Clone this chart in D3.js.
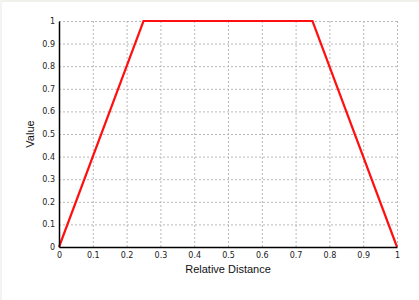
<!DOCTYPE html>
<html>
<head>
<meta charset="utf-8">
<script src="https://cdn.jsdelivr.net/npm/d3@7"></script>
<style>
  body { margin: 0; background: #fff; }
  svg { display: block; }
  .tick text { font-family: "DejaVu Sans", sans-serif; font-size: 8px; fill: #222; }
  .grid line { stroke: #b8b8b8; stroke-dasharray: 2,2; }
  .grid path { display: none; }
  .title { font-family: "Liberation Sans", Arial, sans-serif; font-size: 11px; fill: #111; }
</style>
</head>
<body>
<svg id="chart" width="419" height="300"></svg>
<script>
var distances = [0, 0.25, 0.75, 1];
var values = [0, 1, 1, 0];
var tickValues = [0, 0.1, 0.2, 0.3, 0.4, 0.5, 0.6, 0.7, 0.8, 0.9, 1];

var svg = d3.select("svg#chart");
var margin = { top: 21, right: 22, bottom: 53, left: 59 };
var plotWidth = 419 - margin.left - margin.right;
var plotHeight = 300 - margin.top - margin.bottom;

// faint window frame
svg.append("rect").attr("x", 0).attr("y", 0).attr("width", 419).attr("height", 2).attr("fill", "#f1f0eb");
svg.append("rect").attr("x", 0).attr("y", 0).attr("width", 2).attr("height", 300).attr("fill", "#f4f3ef");

var xScale = d3.scaleLinear().domain([0, 1]).range([0, plotWidth]);
var yScale = d3.scaleLinear().domain([0, 1]).range([plotHeight, 0]);

var plot = svg.append("g")
  .attr("transform", "translate(" + margin.left + "," + margin.top + ")");

/*Grid*/
plot.append("g")
  .attr("class", "grid")
  .call(d3.axisLeft(yScale).tickValues(tickValues).tickFormat("").tickSize(-plotWidth));

plot.append("g")
  .attr("class", "grid")
  .attr("transform", "translate(0," + plotHeight + ")")
  .call(d3.axisBottom(xScale).tickValues(tickValues).tickFormat("").tickSize(-plotHeight));

/*Line*/
var valueline = d3.line()
  .x(function(d, i) { return xScale(distances[i]); })
  .y(function(d) { return yScale(d); });

plot.append("path")
  .attr("d", valueline(values))
  .attr("fill", "none")
  .attr("stroke", "#ff1010")
  .attr("stroke-width", 2.2)
  .attr("stroke-linejoin", "miter");

/*Axes*/
var xAxis = plot.append("g")
  .attr("transform", "translate(0," + plotHeight + ")")
  .call(d3.axisBottom(xScale).tickValues(tickValues).tickSize(0).tickPadding(5).tickFormat(d3.format("")));
xAxis.select(".domain").attr("stroke", "#000").attr("stroke-width", 1.5);

var yAxis = plot.append("g")
  .call(d3.axisLeft(yScale).tickValues(tickValues).tickSize(0).tickPadding(4).tickFormat(d3.format("")));
yAxis.select(".domain").attr("stroke", "#000").attr("stroke-width", 1.5);

/*Titles*/
svg.append("text")
  .attr("class", "title")
  .attr("x", margin.left + plotWidth / 2)
  .attr("y", 273)
  .attr("text-anchor", "middle")
  .text("Relative Distance");

svg.append("text")
  .attr("class", "title")
  .attr("transform", "translate(34," + (margin.top + plotHeight / 2) + ") rotate(-90)")
  .attr("text-anchor", "middle")
  .text("Value");
</script>
</body>
</html>
